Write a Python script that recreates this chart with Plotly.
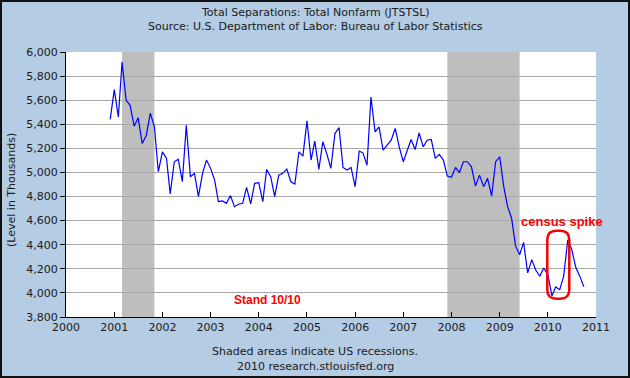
import pandas as pd
import plotly.graph_objects as go

# Monthly Total Separations, Total Nonfarm (thousands), Dec 2000 - Oct 2010
start_month = "2000-12-01"
sep_2000 = [5440]
sep_2001 = [5687, 5461, 5916, 5599, 5557, 5384, 5455, 5240, 5309, 5493, 5380, 5006]
sep_2002 = [5171, 5116, 4822, 5089, 5110, 4923, 5392, 4965, 4993, 4799, 4993, 5103]
sep_2003 = [5034, 4937, 4758, 4764, 4744, 4808, 4716, 4736, 4744, 4876, 4739, 4910]
sep_2004 = [4915, 4758, 5025, 4965, 4799, 4978, 4993, 5028, 4923, 4904, 5171, 5136]
sep_2005 = [5428, 5103, 5260, 5025, 5255, 5152, 5035, 5323, 5373, 5042, 5020, 5042]
sep_2006 = [4882, 5177, 5163, 5061, 5626, 5337, 5378, 5185, 5226, 5268, 5365, 5213]
sep_2007 = [5089, 5180, 5274, 5190, 5329, 5213, 5268, 5274, 5117, 5150, 5103, 4970]
sep_2008 = [4960, 5042, 4998, 5089, 5089, 5047, 4888, 4978, 4882, 4951, 4805, 5089]
sep_2009 = [5130, 4880, 4720, 4620, 4390, 4317, 4419, 4166, 4276, 4190, 4140, 4207]
sep_2010 = [4150, 3975, 4050, 4027, 4140, 4440, 4360, 4210, 4137, 4050]

values = (sep_2000 + sep_2001 + sep_2002 + sep_2003 + sep_2004 + sep_2005 +
          sep_2006 + sep_2007 + sep_2008 + sep_2009 + sep_2010)
dates = pd.date_range(start_month, periods=len(values), freq="MS")

recession_starts = ["2001-03-01", "2007-12-01"]
recession_ends = ["2001-11-01", "2009-06-01"]

y_ticks = list(range(3800, 6001, 200))

title_line1 = "Total Separations: Total Nonfarm (JTSTSL)"
title_line2 = "Source: U.S. Department of Labor: Bureau of Labor Statistics"
footer_line1 = "Shaded areas indicate US recessions."
footer_line2 = "2010 research.stlouisfed.org"
y_title = "(Level in Thousands)"

BG = "#B4CCE4"
TXT = "#1a1a1a"
FONT = "DejaVu Sans"

W, H = 630, 378
ML, MR, MT, MB = 66, 34, 52, 61
PW, PH = W - ML - MR, H - MT - MB

fig = go.Figure()
fig.add_trace(go.Scatter(x=dates, y=values, mode="lines",
                         line=dict(color="#0000FF", width=1.2),
                         showlegend=False, hoverinfo="x+y"))

shapes = []
for s, e in zip(recession_starts, recession_ends):
    shapes.append(dict(type="rect", xref="x", yref="paper", x0=s, x1=e, y0=0, y1=1,
                       fillcolor="#BEBEBE", line=dict(width=0), layer="between"))

# red rounded frame around the census spike
shapes.append(dict(type="path", xref="x", yref="y",
                   xsizemode="pixel", ysizemode="pixel",
                   xanchor="2010-03-21", yanchor=4234,
                   path="M -11,-25 L -11,25 Q -11,34 -2,34 L 2,34 Q 11,34 11,25 "
                        "L 11,-25 Q 11,-34 2,-34 L -2,-34 Q -11,-34 -11,-25 Z",
                   line=dict(color="#FF0000", width=2.5), layer="above"))

# outer border of the image
shapes.append(dict(type="rect", xref="paper", yref="paper",
                   x0=-(ML - 1) / PW, x1=1 + (MR - 1) / PW,
                   y0=-(MB - 1) / PH, y1=1 + (MT - 1) / PH,
                   line=dict(color="#111111", width=2), layer="above"))

annotations = [
    dict(text=title_line1, xref="paper", yref="paper", x=(315 - ML) / PW, y=1 + (MT - 12) / PH,
         showarrow=False, font=dict(family=FONT, size=11, color=TXT), xanchor="center", yanchor="middle"),
    dict(text=title_line2, xref="paper", yref="paper", x=(315 - ML) / PW, y=1 + (MT - 26) / PH,
         showarrow=False, font=dict(family=FONT, size=11, color=TXT), xanchor="center", yanchor="middle"),
    dict(text=footer_line1, xref="paper", yref="paper", x=(315 - ML) / PW, y=-(351 - MT - PH) / PH,
         showarrow=False, font=dict(family=FONT, size=11, color=TXT), xanchor="center", yanchor="middle"),
    dict(text=footer_line2, xref="paper", yref="paper", x=(315 - ML) / PW, y=-(366 - MT - PH) / PH,
         showarrow=False, font=dict(family=FONT, size=11, color=TXT), xanchor="center", yanchor="middle"),
    dict(text=y_title, xref="paper", yref="paper", x=(11 - ML) / PW, y=(MT + PH - 190) / PH,
         showarrow=False, textangle=-90, font=dict(family=FONT, size=11, color=TXT),
         xanchor="center", yanchor="middle"),
    dict(text="<b>census spike</b>", xref="x", yref="y", x="2010-04-15", y=4590,
         showarrow=False, font=dict(family="Liberation Sans", size=13, color="#FF0000"),
         xanchor="center", yanchor="middle"),
    dict(text="<b>Stand 10/10</b>", xref="x", yref="y", x="2004-03-07", y=3939,
         showarrow=False, font=dict(family="Liberation Sans", size=12, color="#FF0000"),
         xanchor="center", yanchor="middle"),
]

fig.update_layout(
    width=W, height=H,
    margin=dict(l=ML, r=MR, t=MT, b=MB, pad=0),
    paper_bgcolor=BG, plot_bgcolor="white",
    font=dict(family=FONT, size=11, color=TXT),
    shapes=shapes, annotations=annotations,
    xaxis=dict(type="date", range=["2000-01-01", "2011-01-01"], dtick="M12",
               tick0="2000-01-01", tickformat="%Y", showgrid=False,
               showline=True, linecolor="black", linewidth=1,
               ticks="inside", ticklen=5, tickcolor="black", tickwidth=1,
               tickfont=dict(family=FONT, size=11, color=TXT), zeroline=False),
    yaxis=dict(range=[3800, 6000], tickvals=y_ticks,
               ticktext=[f"{v:,}" for v in y_ticks],
               showgrid=True, gridcolor="#A8A8A8", gridwidth=1,
               showline=True, linecolor="black", linewidth=1,
               ticks="outside", ticklen=5, tickcolor="black", tickwidth=1,
               tickfont=dict(family=FONT, size=11, color=TXT), zeroline=False),
)

fig.write_html("out.html", config={"displayModeBar": False},
               post_script="document.body.style.margin='0';document.body.style.overflow='hidden';")
